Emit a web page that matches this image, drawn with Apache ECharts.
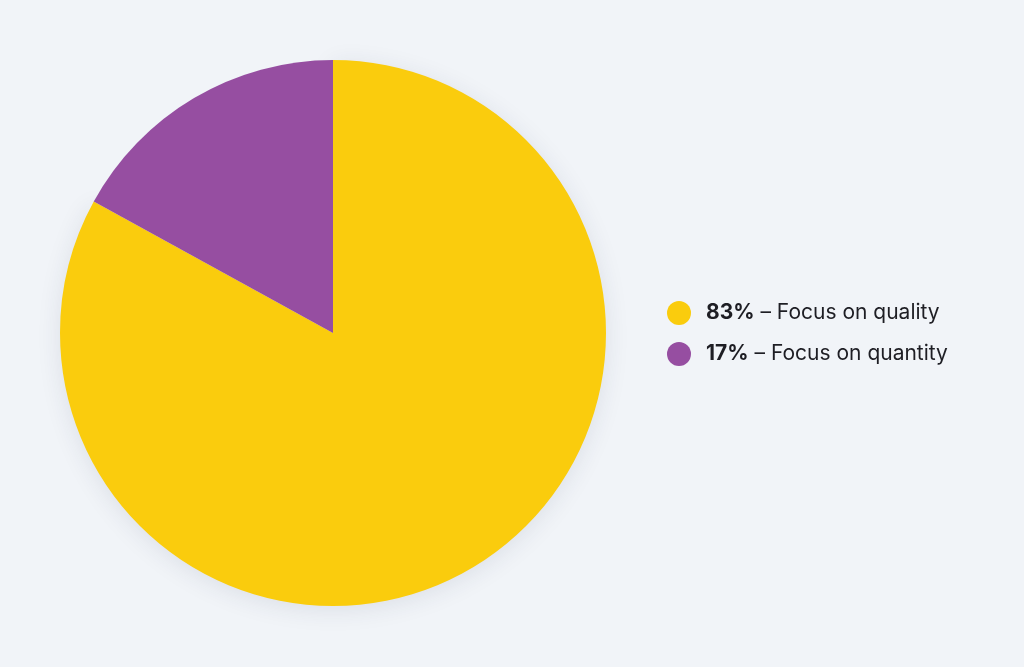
<!DOCTYPE html>
<html><head><meta charset="utf-8">
<script src="https://cdn.jsdelivr.net/npm/echarts@6/dist/echarts.min.js"></script>
<style>html,body{margin:0;padding:0;background:#f1f4f8;}#c{width:1024px;height:667px;}</style>
</head><body><div id="c"></div>
<script>
const categories = ["Focus on quality", "Focus on quantity"];
const values = [83, 17];
const colors = ["#facc0d", "#964ea1"];

const chart = echarts.init(document.getElementById('c'));
chart.setOption({
  backgroundColor: '#f1f4f8',
  animation: false,
  legend: {
    orient: 'vertical',
    left: 667,
    top: 301,
    padding: 0,
    icon: 'circle',
    itemWidth: 24,
    itemHeight: 24,
    itemGap: 17,
    data: categories,
    textStyle: { fontFamily: 'Inter, "Noto Sans", sans-serif', fontSize: 21, lineHeight: 24, color: '#1e1e24',
      padding: [0, 0, 0, 10],
      rich: { b: { fontWeight: 'bold', fontSize: 21, lineHeight: 24, color: '#1e1e24', fontFamily: 'Inter, "Noto Sans", sans-serif' } } },
    formatter: function (name) {
      const i = categories.indexOf(name);
      return '{b|' + values[i] + '%} – ' + name;
    }
  },
  series: [{
    type: 'pie',
    center: [333, 333],
    radius: 273,
    startAngle: 90,
    clockwise: true,
    label: { show: false },
    labelLine: { show: false },
    silent: true,
    data: categories.map((c, i) => ({
      name: c, value: values[i],
      itemStyle: i === 0
        ? { color: colors[i], shadowBlur: 24, shadowColor: 'rgba(40,50,80,0.10)', shadowOffsetY: 4 }
        : { color: colors[i] }
    }))
  }]
});
</script></body></html>
